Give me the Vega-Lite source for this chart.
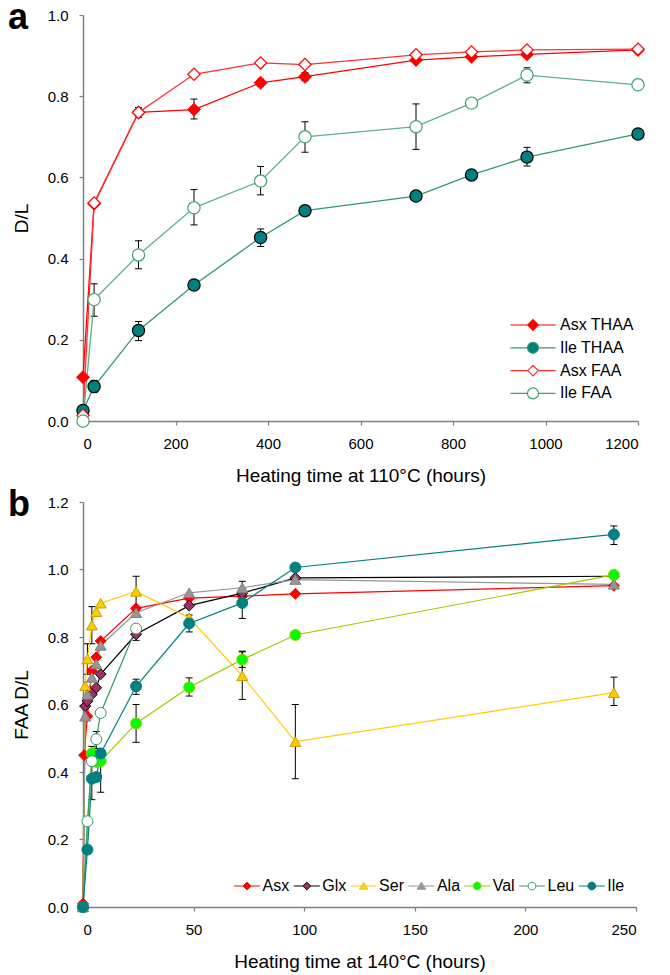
{
  "$schema": "https://vega.github.io/schema/vega-lite/v6.json",
  "background": "white",
  "padding": {"left": 8, "top": 0, "right": 5, "bottom": 5},
  "spacing": 81,
  "bounds": "flush",
  "config": {
    "view": {"stroke": null},
    "font": "Liberation Sans",
    "axis": {
      "grid": false,
      "domainColor": "#7f7f7f",
      "domainWidth": 1.5,
      "tickColor": "#7f7f7f",
      "tickSize": 4,
      "tickWidth": 1.2,
      "labelFont": "Liberation Sans",
      "labelFontSize": 15,
      "labelColor": "#000000",
      "labelPadding": 11,
      "titleFont": "Liberation Sans",
      "titleFontSize": 19,
      "titleFontWeight": "normal",
      "titleColor": "#000000"
    },
    "axisX": {"titlePadding": 15},
    "axisY": {"titlePadding": 16, "labelPadding": 11},
    "title": {"font": "Liberation Sans", "fontSize": 36, "fontWeight": "bold", "anchor": "start", "color": "#000000", "frame": "group", "baseline": "alphabetic"}
  },
  "datasets": {
    "a": [
      {"s": "Asx THAA", "t": 0, "v": 0.108}, {"s": "Asx THAA", "t": 24, "v": 0.535}, {"s": "Asx THAA", "t": 120, "v": 0.76}, {"s": "Asx THAA", "t": 240, "v": 0.767}, {"s": "Asx THAA", "t": 384, "v": 0.833}, {"s": "Asx THAA", "t": 480, "v": 0.848}, {"s": "Asx THAA", "t": 720, "v": 0.889}, {"s": "Asx THAA", "t": 840, "v": 0.897}, {"s": "Asx THAA", "t": 960, "v": 0.903}, {"s": "Asx THAA", "t": 1200, "v": 0.914},
      {"s": "Ile THAA", "t": 0, "v": 0.026}, {"s": "Ile THAA", "t": 24, "v": 0.085}, {"s": "Ile THAA", "t": 120, "v": 0.223}, {"s": "Ile THAA", "t": 240, "v": 0.335}, {"s": "Ile THAA", "t": 384, "v": 0.452}, {"s": "Ile THAA", "t": 480, "v": 0.518}, {"s": "Ile THAA", "t": 720, "v": 0.554}, {"s": "Ile THAA", "t": 840, "v": 0.606}, {"s": "Ile THAA", "t": 960, "v": 0.65}, {"s": "Ile THAA", "t": 1200, "v": 0.707},
      {"s": "Asx FAA", "t": 0, "v": 0.014}, {"s": "Asx FAA", "t": 24, "v": 0.537}, {"s": "Asx FAA", "t": 120, "v": 0.76}, {"s": "Asx FAA", "t": 240, "v": 0.854}, {"s": "Asx FAA", "t": 384, "v": 0.882}, {"s": "Asx FAA", "t": 480, "v": 0.878}, {"s": "Asx FAA", "t": 720, "v": 0.902}, {"s": "Asx FAA", "t": 840, "v": 0.909}, {"s": "Asx FAA", "t": 960, "v": 0.914}, {"s": "Asx FAA", "t": 1200, "v": 0.916},
      {"s": "Ile FAA", "t": 0, "v": 0.0}, {"s": "Ile FAA", "t": 24, "v": 0.299}, {"s": "Ile FAA", "t": 120, "v": 0.409}, {"s": "Ile FAA", "t": 240, "v": 0.525}, {"s": "Ile FAA", "t": 384, "v": 0.591}, {"s": "Ile FAA", "t": 480, "v": 0.7}, {"s": "Ile FAA", "t": 720, "v": 0.725}, {"s": "Ile FAA", "t": 840, "v": 0.783}, {"s": "Ile FAA", "t": 960, "v": 0.852}, {"s": "Ile FAA", "t": 1200, "v": 0.828}
    ],
    "aerr": [
      {"s": "Asx THAA", "t": 120, "lo": 0.748, "hi": 0.772}, {"s": "Asx THAA", "t": 240, "lo": 0.744, "hi": 0.793}, {"s": "Asx THAA", "t": 384, "lo": 0.824, "hi": 0.842}, {"s": "Asx THAA", "t": 480, "lo": 0.838, "hi": 0.858},
      {"s": "Ile THAA", "t": 24, "lo": 0.07, "hi": 0.1}, {"s": "Ile THAA", "t": 120, "lo": 0.198, "hi": 0.245}, {"s": "Ile THAA", "t": 240, "lo": 0.325, "hi": 0.345}, {"s": "Ile THAA", "t": 384, "lo": 0.43, "hi": 0.473}, {"s": "Ile THAA", "t": 960, "lo": 0.628, "hi": 0.674},
      {"s": "Ile FAA", "t": 24, "lo": 0.258, "hi": 0.338}, {"s": "Ile FAA", "t": 120, "lo": 0.375, "hi": 0.444}, {"s": "Ile FAA", "t": 240, "lo": 0.483, "hi": 0.57}, {"s": "Ile FAA", "t": 384, "lo": 0.557, "hi": 0.627}, {"s": "Ile FAA", "t": 480, "lo": 0.662, "hi": 0.737}, {"s": "Ile FAA", "t": 720, "lo": 0.669, "hi": 0.781}, {"s": "Ile FAA", "t": 960, "lo": 0.833, "hi": 0.87}
    ],
    "b": [
      {"s": "Asx", "t": 0, "v": 0.01}, {"s": "Asx", "t": 0.5, "v": 0.45}, {"s": "Asx", "t": 2, "v": 0.565}, {"s": "Asx", "t": 4, "v": 0.7}, {"s": "Asx", "t": 6, "v": 0.74}, {"s": "Asx", "t": 8, "v": 0.788}, {"s": "Asx", "t": 24, "v": 0.885}, {"s": "Asx", "t": 48, "v": 0.915}, {"s": "Asx", "t": 72, "v": 0.921}, {"s": "Asx", "t": 96, "v": 0.928}, {"s": "Asx", "t": 240, "v": 0.952},
      {"s": "Glx", "t": 0, "v": 0.0}, {"s": "Glx", "t": 1, "v": 0.595}, {"s": "Glx", "t": 2, "v": 0.61}, {"s": "Glx", "t": 4, "v": 0.63}, {"s": "Glx", "t": 6, "v": 0.65}, {"s": "Glx", "t": 8, "v": 0.69}, {"s": "Glx", "t": 24, "v": 0.808}, {"s": "Glx", "t": 48, "v": 0.893}, {"s": "Glx", "t": 72, "v": 0.93}, {"s": "Glx", "t": 96, "v": 0.975}, {"s": "Glx", "t": 240, "v": 0.98},
      {"s": "Ser", "t": 0, "v": 0.0}, {"s": "Ser", "t": 1, "v": 0.655}, {"s": "Ser", "t": 2, "v": 0.735}, {"s": "Ser", "t": 4, "v": 0.835}, {"s": "Ser", "t": 6, "v": 0.875}, {"s": "Ser", "t": 8, "v": 0.9}, {"s": "Ser", "t": 24, "v": 0.935}, {"s": "Ser", "t": 48, "v": 0.857}, {"s": "Ser", "t": 72, "v": 0.685}, {"s": "Ser", "t": 96, "v": 0.49}, {"s": "Ser", "t": 240, "v": 0.635},
      {"s": "Ala", "t": 0, "v": 0.0}, {"s": "Ala", "t": 1, "v": 0.565}, {"s": "Ala", "t": 2, "v": 0.63}, {"s": "Ala", "t": 4, "v": 0.68}, {"s": "Ala", "t": 6, "v": 0.72}, {"s": "Ala", "t": 8, "v": 0.775}, {"s": "Ala", "t": 24, "v": 0.872}, {"s": "Ala", "t": 48, "v": 0.931}, {"s": "Ala", "t": 72, "v": 0.946}, {"s": "Ala", "t": 96, "v": 0.97}, {"s": "Ala", "t": 240, "v": 0.956},
      {"s": "Val", "t": 0, "v": 0.0}, {"s": "Val", "t": 4, "v": 0.455}, {"s": "Val", "t": 6, "v": 0.43}, {"s": "Val", "t": 8, "v": 0.432}, {"s": "Val", "t": 24, "v": 0.544}, {"s": "Val", "t": 48, "v": 0.651}, {"s": "Val", "t": 72, "v": 0.733}, {"s": "Val", "t": 96, "v": 0.806}, {"s": "Val", "t": 240, "v": 0.984},
      {"s": "Leu", "t": 0, "v": 0.0}, {"s": "Leu", "t": 2, "v": 0.254}, {"s": "Leu", "t": 4, "v": 0.432}, {"s": "Leu", "t": 6, "v": 0.497}, {"s": "Leu", "t": 8, "v": 0.575}, {"s": "Leu", "t": 24, "v": 0.825},
      {"s": "Ile", "t": 0, "v": 0.0}, {"s": "Ile", "t": 2, "v": 0.17}, {"s": "Ile", "t": 4, "v": 0.38}, {"s": "Ile", "t": 6, "v": 0.385}, {"s": "Ile", "t": 8, "v": 0.455}, {"s": "Ile", "t": 24, "v": 0.654}, {"s": "Ile", "t": 48, "v": 0.84}, {"s": "Ile", "t": 72, "v": 0.901}, {"s": "Ile", "t": 96, "v": 1.006}, {"s": "Ile", "t": 240, "v": 1.104}
    ],
    "berr": [
      {"s": "Ser", "t": 2, "lo": 0.69, "hi": 0.78}, {"s": "Ser", "t": 4, "lo": 0.78, "hi": 0.89}, {"s": "Ser", "t": 24, "lo": 0.885, "hi": 0.98}, {"s": "Ser", "t": 72, "lo": 0.615, "hi": 0.758}, {"s": "Ser", "t": 96, "lo": 0.38, "hi": 0.6}, {"s": "Ser", "t": 240, "lo": 0.597, "hi": 0.681},
      {"s": "Ile", "t": 4, "lo": 0.318, "hi": 0.476}, {"s": "Ile", "t": 24, "lo": 0.63, "hi": 0.675}, {"s": "Ile", "t": 48, "lo": 0.815, "hi": 0.865}, {"s": "Ile", "t": 72, "lo": 0.855, "hi": 0.945}, {"s": "Ile", "t": 240, "lo": 1.074, "hi": 1.129},
      {"s": "Val", "t": 8, "lo": 0.34, "hi": 0.447}, {"s": "Val", "t": 24, "lo": 0.488, "hi": 0.6}, {"s": "Val", "t": 48, "lo": 0.625, "hi": 0.679}, {"s": "Val", "t": 72, "lo": 0.71, "hi": 0.756},
      {"s": "Glx", "t": 24, "lo": 0.79, "hi": 0.83}, {"s": "Ala", "t": 72, "lo": 0.925, "hi": 0.965}, {"s": "Leu", "t": 6, "lo": 0.47, "hi": 0.52}
    ]
  },
  "vconcat": [
    {
      "width": 555,
      "height": 406,
      "title": {"text": "a", "dx": -75, "offset": -29},
      "encoding": {
        "x": {"field": "t", "type": "quantitative", "scale": {"domain": [0, 1200], "nice": false}, "axis": {"values": [0, 200, 400, 600, 800, 1000, 1200], "format": "d"}, "title": "Heating time at 110°C (hours)"}
      },
      "layer": [
        {"data": {"name": "aerr"}, "mark": {"type": "rule", "color": "#000000", "strokeWidth": 1},
          "encoding": {"y": {"field": "lo", "type": "quantitative", "scale": {"domain": [0, 1], "nice": false}, "axis": {"values": [0, 0.2, 0.4, 0.6, 0.8, 1.0], "format": ".1f"}, "title": "D/L"}, "y2": {"field": "hi"}}},
        {"data": {"name": "aerr"}, "mark": {"type": "tick", "orient": "horizontal", "color": "#000000", "size": 7, "thickness": 1, "opacity": 1},
          "encoding": {"y": {"field": "lo", "type": "quantitative", "title": "D/L"}}},
        {"data": {"name": "aerr"}, "mark": {"type": "tick", "orient": "horizontal", "color": "#000000", "size": 7, "thickness": 1, "opacity": 1},
          "encoding": {"y": {"field": "hi", "type": "quantitative", "title": "D/L"}}},
        {"data": {"name": "a"}, "mark": {"type": "line", "strokeWidth": 1.3},
          "encoding": {
            "y": {"field": "v", "type": "quantitative", "title": "D/L"},
            "stroke": {"field": "s", "type": "nominal", "scale": {"domain": ["Asx THAA", "Ile THAA", "Asx FAA", "Ile FAA"], "range": ["#ff0000", "#339966", "#ff3030", "#5fb088"]}, "legend": null}
          }},
        {"data": {"name": "a"}, "mark": {"type": "point", "filled": true, "size": 150, "strokeWidth": 1.2, "opacity": 1},
          "encoding": {
            "y": {"field": "v", "type": "quantitative", "title": "D/L"},
            "shape": {"field": "s", "type": "nominal", "scale": {"domain": ["Asx THAA", "Ile THAA", "Asx FAA", "Ile FAA"], "range": ["diamond", "circle", "diamond", "circle"]}, "legend": null},
            "fill": {"field": "s", "type": "nominal", "scale": {"domain": ["Asx THAA", "Ile THAA", "Asx FAA", "Ile FAA"], "range": ["#ff0000", "#008080", "#ffffff", "#ffffff"]}, "legend": null},
            "stroke": {"field": "s", "type": "nominal", "scale": {"domain": ["Asx THAA", "Ile THAA", "Asx FAA", "Ile FAA"], "range": ["#ff0000", "#000000", "#ff0000", "#40a070"]}, "legend": null}
          }},
        {"data": {"name": "a"}, "transform": [{"filter": "datum.t < 0"}], "mark": {"type": "point", "filled": true, "opacity": 1},
          "encoding": {
            "y": {"field": "v", "type": "quantitative", "title": "D/L"},
            "shape": {"field": "s", "type": "nominal", "scale": {"domain": ["Asx THAA", "Ile THAA", "Asx FAA", "Ile FAA"], "range": ["M-2.05,0H-0.48M0.48,0H2.05M-0.48,0L0,-0.48L0.48,0L0,0.48Z", "M-2.05,0H-0.5M0.5,0H2.05M-0.5,0A0.5,0.5,0,1,0,0.5,0A0.5,0.5,0,1,0,-0.5,0Z", "M-2.05,0H-0.48M0.48,0H2.05M-0.48,0L0,-0.48L0.48,0L0,0.48Z", "M-2.05,0H-0.5M0.5,0H2.05M-0.5,0A0.5,0.5,0,1,0,0.5,0A0.5,0.5,0,1,0,-0.5,0Z"]},
              "legend": {"title": null, "orient": "none", "legendX": 438, "legendY": 298, "symbolSize": 484, "labelOffset": 15, "rowPadding": 2.8, "padding": 0, "symbolStrokeWidth": 1.2, "labelFontSize": 16, "labelFont": "Liberation Sans", "labelColor": "#000000", "symbolOpacity": 1}},
            "fill": {"field": "s", "type": "nominal", "scale": {"domain": ["Asx THAA", "Ile THAA", "Asx FAA", "Ile FAA"], "range": ["#ff0000", "#008080", "#ffffff", "#ffffff"]},
              "legend": {"title": null, "orient": "none", "legendX": 438, "legendY": 298, "symbolSize": 484, "labelOffset": 15, "rowPadding": 2.8, "padding": 0, "symbolStrokeWidth": 1.2, "labelFontSize": 16, "labelFont": "Liberation Sans", "labelColor": "#000000", "symbolOpacity": 1}},
            "stroke": {"field": "s", "type": "nominal", "scale": {"domain": ["Asx THAA", "Ile THAA", "Asx FAA", "Ile FAA"], "range": ["#ff0000", "#339966", "#ff3030", "#40a070"]},
              "legend": {"title": null, "orient": "none", "legendX": 438, "legendY": 298, "symbolSize": 484, "labelOffset": 15, "rowPadding": 2.8, "padding": 0, "symbolStrokeWidth": 1.2, "labelFontSize": 16, "labelFont": "Liberation Sans", "labelColor": "#000000", "symbolOpacity": 1}}
          }}
      ],
      "resolve": {"scale": {"stroke": "independent", "fill": "independent", "shape": "independent"}}
    },
    {
      "width": 553,
      "height": 405,
      "title": {"text": "b", "dx": -75, "offset": -29},
      "encoding": {
        "x": {"field": "t", "type": "quantitative", "scale": {"domain": [0, 250], "nice": false}, "axis": {"values": [0, 50, 100, 150, 200, 250], "format": "d"}, "title": "Heating time at 140°C (hours)"}
      },
      "layer": [
        {"data": {"name": "berr"}, "mark": {"type": "rule", "color": "#000000", "strokeWidth": 1},
          "encoding": {"y": {"field": "lo", "type": "quantitative", "scale": {"domain": [0, 1.2], "nice": false}, "axis": {"values": [0, 0.2, 0.4, 0.6, 0.8, 1.0, 1.2], "format": ".1f"}, "title": "FAA D/L"}, "y2": {"field": "hi"}}},
        {"data": {"name": "berr"}, "mark": {"type": "tick", "orient": "horizontal", "color": "#000000", "size": 7, "thickness": 1, "opacity": 1},
          "encoding": {"y": {"field": "lo", "type": "quantitative", "title": "FAA D/L"}}},
        {"data": {"name": "berr"}, "mark": {"type": "tick", "orient": "horizontal", "color": "#000000", "size": 7, "thickness": 1, "opacity": 1},
          "encoding": {"y": {"field": "hi", "type": "quantitative", "title": "FAA D/L"}}},
        {"data": {"name": "b"}, "mark": {"type": "line", "strokeWidth": 1.2},
          "encoding": {
            "y": {"field": "v", "type": "quantitative", "title": "FAA D/L"},
            "stroke": {"field": "s", "type": "nominal", "scale": {"domain": ["Asx", "Glx", "Ser", "Ala", "Val", "Leu", "Ile"], "range": ["#ff0000", "#000000", "#ffcc00", "#969696", "#99cc00", "#339966", "#008080"]}, "legend": null}
          }},
        {"data": {"name": "b"}, "mark": {"type": "point", "filled": true, "size": 120, "strokeWidth": 1, "opacity": 1},
          "encoding": {
            "y": {"field": "v", "type": "quantitative", "title": "FAA D/L"},
            "shape": {"field": "s", "type": "nominal", "scale": {"domain": ["Asx", "Glx", "Ser", "Ala", "Val", "Leu", "Ile"], "range": ["diamond", "diamond", "triangle-up", "triangle-up", "circle", "circle", "circle"]}, "legend": null},
            "fill": {"field": "s", "type": "nominal", "scale": {"domain": ["Asx", "Glx", "Ser", "Ala", "Val", "Leu", "Ile"], "range": ["#ff0000", "#993366", "#ffcc00", "#969696", "#00ff00", "#ffffff", "#008080"]}, "legend": null},
            "stroke": {"field": "s", "type": "nominal", "scale": {"domain": ["Asx", "Glx", "Ser", "Ala", "Val", "Leu", "Ile"], "range": ["#ff0000", "#000000", "#c8a000", "#808080", "#99cc00", "#339966", "#008080"]}, "legend": null}
          }},
        {"data": {"name": "b"}, "transform": [{"filter": "datum.t < 0"}], "mark": {"type": "point", "filled": true, "opacity": 1},
          "encoding": {
            "y": {"field": "v", "type": "quantitative", "title": "FAA D/L"},
            "shape": {"field": "s", "type": "nominal", "scale": {"domain": ["Asx", "Glx", "Ser", "Ala", "Val", "Leu", "Ile"], "range": ["M-2,0H-0.6M0.6,0H2M-0.6,0L0,-0.6L0.6,0L0,0.6Z", "M-2,0H-0.6M0.6,0H2M-0.6,0L0,-0.6L0.6,0L0,0.6Z", "M-2,0H-0.35M0.35,0H2M0,-0.6L0.65,0.5L-0.65,0.5Z", "M-2,0H-0.35M0.35,0H2M0,-0.6L0.65,0.5L-0.65,0.5Z", "M-2,0H-0.6M0.6,0H2M-0.6,0A0.6,0.6,0,1,0,0.6,0A0.6,0.6,0,1,0,-0.6,0Z", "M-2,0H-0.6M0.6,0H2M-0.6,0A0.6,0.6,0,1,0,0.6,0A0.6,0.6,0,1,0,-0.6,0Z", "M-2,0H-0.6M0.6,0H2M-0.6,0A0.6,0.6,0,1,0,0.6,0A0.6,0.6,0,1,0,-0.6,0Z"]},
              "legend": {"title": null, "orient": "none", "legendX": 156, "legendY": 376, "direction": "horizontal", "columns": 7, "symbolSize": 169, "labelOffset": 7.5, "columnPadding": 1.8, "padding": 0, "symbolStrokeWidth": 1, "labelFontSize": 16, "labelFont": "Liberation Sans", "labelColor": "#000000", "symbolOpacity": 1}},
            "fill": {"field": "s", "type": "nominal", "scale": {"domain": ["Asx", "Glx", "Ser", "Ala", "Val", "Leu", "Ile"], "range": ["#ff0000", "#993366", "#ffcc00", "#969696", "#00ff00", "#ffffff", "#008080"]},
              "legend": {"title": null, "orient": "none", "legendX": 156, "legendY": 376, "direction": "horizontal", "columns": 7, "symbolSize": 169, "labelOffset": 7.5, "columnPadding": 1.8, "padding": 0, "symbolStrokeWidth": 1, "labelFontSize": 16, "labelFont": "Liberation Sans", "labelColor": "#000000", "symbolOpacity": 1}},
            "stroke": {"field": "s", "type": "nominal", "scale": {"domain": ["Asx", "Glx", "Ser", "Ala", "Val", "Leu", "Ile"], "range": ["#ff0000", "#000000", "#ffcc00", "#969696", "#99cc00", "#339966", "#008080"]},
              "legend": {"title": null, "orient": "none", "legendX": 156, "legendY": 376, "direction": "horizontal", "columns": 7, "symbolSize": 169, "labelOffset": 7.5, "columnPadding": 1.8, "padding": 0, "symbolStrokeWidth": 1, "labelFontSize": 16, "labelFont": "Liberation Sans", "labelColor": "#000000", "symbolOpacity": 1}}
          }}
      ],
      "resolve": {"scale": {"stroke": "independent", "fill": "independent", "shape": "independent"}}
    }
  ]
}
